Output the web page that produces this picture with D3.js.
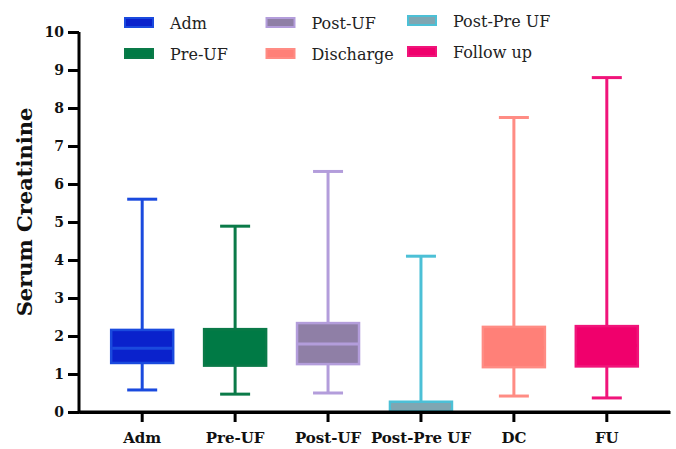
<!DOCTYPE html>
<html>
<head>
<meta charset="utf-8">
<script src="https://cdn.jsdelivr.net/npm/d3@7"></script>
<style>
  body { margin: 0; background: #fff; }
  #canvas { width: 676px; height: 449px; }
  text { font-family: "DejaVu Serif", "Liberation Serif", serif; }
</style>
</head>
<body>
<div id="canvas" class="canvas"></div>
<script>
// box plot values
var categories = ['Adm', 'Pre-UF', 'Post-UF', 'Post-Pre UF', 'DC', 'FU'];
var legendNames = ['Adm', 'Pre-UF', 'Post-UF', 'Discharge', 'Post-Pre UF', 'Follow up'];
var mins    = [0.58, 0.47, 0.50, 0.02, 0.42, 0.37];
var q1s     = [1.29, 1.22, 1.26, 0.02, 1.18, 1.20];
var medians = [1.68, 1.70, 1.79, 0.15, 1.70, 1.75];
var q3s     = [2.16, 2.18, 2.34, 0.27, 2.24, 2.26];
var maxs    = [5.60, 4.89, 6.33, 4.10, 7.75, 8.80];
var yTicks  = [0, 1, 2, 3, 4, 5, 6, 7, 8, 9, 10];

var fills   = ['#0a22cc', '#007a45', '#8f7fa6', '#7fa6b2', '#ff8078', '#f0006c'];
var strokes = ['#1a4ade', '#0a7a48', '#b39ddb', '#4cc0d6', '#ff8c84', '#f0147a'];
var medCols = ['#1a4ade', '#007a45', '#b39ddb', '#7fa6b2', '#ff8078', '#f0006c'];

var W = 676, H = 449;
var m = {t: 32, r: 6, b: 37, l: 79};

var svg = d3.select('.canvas').append('svg')
    .attr('width', W).attr('height', H);

var y = d3.scaleLinear().domain([0, 10]).range([H - m.b, m.t]);
var x = d3.scaleBand().domain(categories)
    .range([m.l, W - m.r])
    .paddingOuter(0.18).paddingInner(0);

var boxW = 62, capW = 30;

// axes
var yAxis = svg.append('g').attr('transform', 'translate(' + m.l + ',0)')
    .call(d3.axisLeft(y).tickValues(yTicks).tickSize(11).tickPadding(4));
var xAxis = svg.append('g').attr('transform', 'translate(0,' + y(0) + ')')
    .call(d3.axisBottom(x).tickSize(10).tickPadding(10).tickSizeOuter(0));

[yAxis, xAxis].forEach(function(a) {
  a.select('.domain').attr('stroke', '#000').attr('stroke-width', 3);
  a.selectAll('.tick line').attr('stroke', '#000').attr('stroke-width', 3);
  a.selectAll('.tick text').attr('fill', '#111')
    .style('font-family', '"DejaVu Serif", serif')
    .style('font-weight', 'bold').style('font-size', '14px');
});
xAxis.selectAll('.tick text').style('font-size', '15px');
yAxis.select('.domain').attr('d', 'M0,' + (y(0) + 1.5) + 'V' + y(10));

svg.append('text')
  .attr('transform', 'translate(32,' + 212 + ') rotate(-90)')
  .attr('text-anchor', 'middle')
  .style('font-weight', 'bold').style('font-size', '21px')
  .attr('fill', '#111')
  .text('Serum  Creatinine');

// boxes
var data = categories.map(function(c, i) {
  return {c: c, min: mins[i], q1: q1s[i], med: medians[i], q3: q3s[i], max: maxs[i],
          fill: fills[i], stroke: strokes[i], medc: medCols[i]};
});

var g = svg.selectAll('.box').data(data).enter().append('g').attr('class', 'box')
  .attr('transform', function(d) { return 'translate(' + (x(d.c) + x.bandwidth() / 2) + ',0)'; });

g.append('line')
  .attr('x1', 0).attr('x2', 0)
  .attr('y1', function(d) { return y(d.max); })
  .attr('y2', function(d) { return y(d.min); })
  .attr('stroke', function(d) { return d.stroke; }).attr('stroke-width', 3);
g.append('line')
  .attr('x1', -capW / 2).attr('x2', capW / 2)
  .attr('y1', function(d) { return y(d.max); }).attr('y2', function(d) { return y(d.max); })
  .attr('stroke', function(d) { return d.stroke; }).attr('stroke-width', 3);
g.append('line')
  .attr('x1', -capW / 2).attr('x2', capW / 2)
  .attr('y1', function(d) { return y(d.min); }).attr('y2', function(d) { return y(d.min); })
  .attr('stroke', function(d) { return d.stroke; }).attr('stroke-width', 3);
g.append('rect')
  .attr('x', -boxW / 2).attr('width', boxW)
  .attr('y', function(d) { return y(d.q3); })
  .attr('height', function(d) { return y(d.q1) - y(d.q3); })
  .attr('fill', function(d) { return d.fill; })
  .attr('stroke', function(d) { return d.stroke; }).attr('stroke-width', 2.5);
g.append('line')
  .attr('x1', -boxW / 2 + 1).attr('x2', boxW / 2 - 1)
  .attr('y1', function(d) { return y(d.med); }).attr('y2', function(d) { return y(d.med); })
  .attr('stroke', function(d) { return d.medc; }).attr('stroke-width', 3);

// redraw x axis line over the boxes sitting on zero
svg.append('line')
  .attr('x1', m.l).attr('x2', W - m.r)
  .attr('y1', y(0)).attr('y2', y(0))
  .attr('stroke', '#000').attr('stroke-width', 3);

// legend: 3 columns, 2 rows
var legColor = [0, 1, 2, 4, 3, 5];
var lg = svg.selectAll('.leg').data(legendNames).enter().append('g').attr('class', 'leg')
  .attr('transform', function(d, i) {
    var col = Math.floor(i / 2), row = i % 2;
    return 'translate(' + (125 + col * 141.5) + ',' + (18 + row * 31 - (col == 2 ? 2 : 0)) + ')';
  });
lg.append('rect')
  .attr('width', 28).attr('height', 9)
  .attr('fill', function(d, i) { return fills[legColor[i]]; })
  .attr('stroke', function(d, i) { return strokes[legColor[i]]; }).attr('stroke-width', 2);
lg.append('text')
  .attr('x', 45).attr('y', 11)
  .style('font-size', '16px').attr('fill', '#222')
  .text(function(d) { return d; });
</script>
</body>
</html>
